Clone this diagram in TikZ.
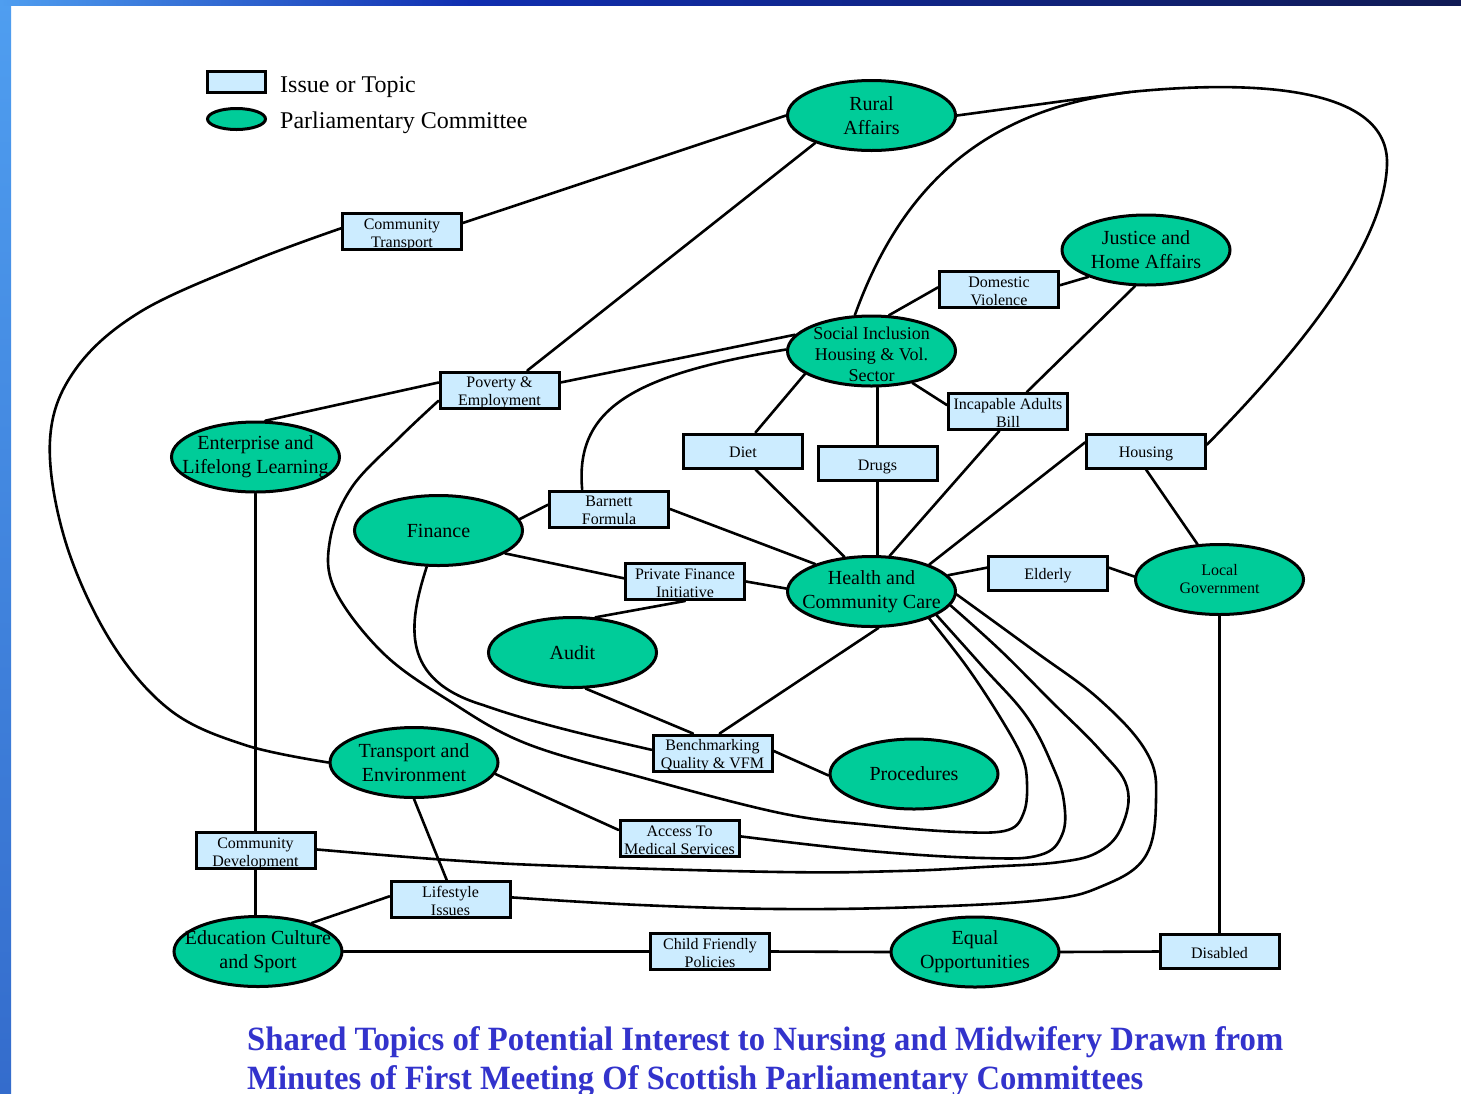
\documentclass[tikz,border=0pt]{standalone}
\usepackage{fontspec}
\setmainfont{Liberation Serif}
\usetikzlibrary{shapes.geometric}
\definecolor{comgreen}{RGB}{0,204,153}
\definecolor{topicblue}{RGB}{204,236,255}
\definecolor{titleblue}{RGB}{51,51,204}
\definecolor{barlight}{RGB}{79,158,240}
\definecolor{barmid}{RGB}{16,46,176}
\definecolor{bardark}{RGB}{16,26,84}
\definecolor{barlow}{RGB}{52,108,204}
% lowered multi-line text, box size kept
\newcommand\lowtext[2]{\raisebox{-#1}[\height][\depth]{\begin{tabular}{@{}c@{}}#2\end{tabular}}}
\newcommand\tl[1]{\lowtext{3pt}{#1}}
\begin{document}
\begin{tikzpicture}[x=1pt,y=-1pt,
  committee/.style={ellipse, draw=black, line width=3pt, fill=comgreen,
    minimum width=168pt, minimum height=70pt, inner xsep=-40pt, inner ysep=-20pt,
    align=center, font=\fontsize{20}{24}\selectfont},
  topic/.style={rectangle, draw=black, line width=3pt, fill=topicblue,
    minimum width=119pt, minimum height=34pt, inner sep=0pt,
    align=center, font=\fontsize{16}{18}\selectfont},
  link/.style={line width=2.6pt, black, line cap=round},
  plain/.style={anchor=base west, inner sep=0pt}]
\useasboundingbox (0,0) rectangle (1461,1093);
\fill[white] (0,0) rectangle (1461,1093);
% frame
\shade[top color=barlight, bottom color=barlow] (0,0) rectangle (11,1093);
\shade[left color=barlight, right color=barmid] (0,0) rectangle (470,5.5);
\shade[left color=barmid, right color=bardark] (470,0) rectangle (1461,5.5);

% legend
\node[topic, minimum width=58pt, minimum height=21pt] (legbox) at (236.5,82) {};
\node[committee, minimum width=58pt, minimum height=21pt] (legell) at (236.5,119) {};
\node[plain, font=\fontsize{24}{28}\selectfont] (legt1) at (280,92) {Issue or Topic};
\node[plain, font=\fontsize{24}{28}\selectfont] (legt2) at (280,128) {Parliamentary Committee};

% committees
\node[committee] (rural) at (871.5,115.5) {Rural\\Affairs};
\node[committee] (justice) at (1146,250) {Justice and\\Home Affairs};
\node[committee, font=\fontsize{18}{21}\selectfont] (social) at (871.5,351) {\lowtext{5pt}{Social Inclusion\\Housing \& Vol.\\Sector}};
\node[committee] (enterprise) at (255.5,457) {Enterprise and\\Lifelong Learning};
\node[committee] (finance) at (438.5,530.5) {Finance};
\node[committee] (hcc) at (871.5,591.5) {Health and\\Community Care};
\node[committee, font=\fontsize{16}{18}\selectfont] (lg) at (1219.5,579.5) {Local\\Government};
\node[committee] (audit) at (572.5,652.5) {Audit};
\node[committee] (te) at (414,762.5) {Transport and\\Environment};
\node[committee] (proc) at (914,774) {Procedures};
\node[committee] (ecs) at (258,951.5) {Education Culture\\and Sport};
\node[committee] (eo) at (975,952) {Equal\\Opportunities};

% topics
\node[topic] (ct) at (402,231.5) {\tl{Community\\Transport}};
\node[topic] (dv) at (999,289.5) {\tl{Domestic\\Violence}};
\node[topic] (pov) at (499.5,390) {\tl{Poverty \&\\Employment}};
\node[topic] (iab) at (1008,411.5) {\tl{Incapable Adults\\Bill}};
\node[topic] (diet) at (743,451) {\tl{Diet}};
\node[topic] (drugs) at (877.5,463.5) {\tl{Drugs}};
\node[topic] (housing) at (1146,451) {\tl{Housing}};
\node[topic] (bf) at (609,509) {\tl{Barnett\\Formula}};
\node[topic] (pfi) at (685,581.5) {\tl{Private Finance\\Initiative}};
\node[topic] (eld) at (1048,573) {\tl{Elderly}};
\node[topic] (bm) at (712.5,753) {\tl{Benchmarking\\Quality \& VFM}};
\node[topic] (acc) at (679.5,838.5) {\tl{Access To\\Medical Services}};
\node[topic] (cd) at (255.5,850.5) {\tl{Community\\Development}};
\node[topic] (li) at (450.5,899.5) {\tl{Lifestyle\\Issues}};
\node[topic] (cf) at (710,951.5) {\tl{Child Friendly\\Policies}};
\node[topic] (dis) at (1219.5,951.5) {\tl{Disabled}};

% straight connectors
\draw[link] (rural.180) -- (ct.8);
\draw[link] (rural.206) -- (pov.35);
\draw[link] (social.168) -- (pov.7);
\draw[link] (pov.173) -- (enterprise.75);
\draw[link] (justice.205) -- (dv.4);
\draw[link] (social.64) -- (dv.178);
\draw[link] (justice.253) -- (iab.46);
\draw[link] (social.-38) -- (iab.174);
\draw[link] (drugs.north) -- (drugs.north |- social.south);
\draw[link] (drugs.south) -- (drugs.south |- hcc.north);
\draw[link] (social.199) -- (diet.56);
\draw[link] (diet.-56) -- (hcc.128);
\draw[link] (iab.246) -- (hcc.63);
\draw[link] (housing.172) -- (hcc.25);
\draw[link] (housing.south) -- (lg.122);
\draw[link] (finance.8) -- (bf.176);
\draw[link] (bf.east) -- (hcc.154);
\draw[link] (finance.-19) -- (pfi.177);
\draw[link] (pfi.east) -- (hcc.178);
\draw[link] (pfi.south) -- (audit.57);
\draw[link] (audit.-70) -- (bm.135);
\draw[link] (bm.70) -- (hcc.-79);
\draw[link] (bm.2) -- (proc.181);
\draw[link] (hcc.12) -- (eld.175);
\draw[link] (eld.5) -- (lg.178);
\draw[link] (lg.south) -- (dis.north);
\draw[link] (dis.west) -- (eo.east);
\draw[link] (eo.west) -- (cf.east);
\draw[link] (cf.west) -- (ecs.east);
\draw[link] (ecs.28) -- (li.177);
\draw[link] (te.south) -- (li.101);
\draw[link] (te.-8) -- (acc.172);
\draw[link] (enterprise.south) -- (cd.north);
\draw[link] (cd.south) -- (cd.south |- ecs.north);

% curved connectors
\draw[link] (social.179) .. controls (630,375) and (575,410) .. (bf.144);
\draw[link] (finance.252) .. controls (408,625) and (400,680) .. (483,705)
  .. controls (540,725) and (600,738) .. (bm.177);
\coordinate (merge) at (1130,92);
\draw[link] (rural.0) -- (merge) .. controls (1250,80) and (1390,85) .. (1387,165)
  .. controls (1384,250) and (1290,360) .. (housing.6);
\draw[link] (social.115) .. controls (900,190) and (980,110) .. (merge);
\draw[link] plot[smooth, tension=0.6] coordinates {(ct.177) (250,262) (140,312) (75,370) (50,440) (65,540) (110,640) (170,710) (245,745) (te.180)};
\draw[link] plot[smooth, tension=0.6] coordinates {(pov.190) (400,437) (352,487) (330,540) (335,590) (383,653) (448,700) (525,743) (640,777) (780,813) (870,825) (960,832) (1008,830) (1024,812) (1027,783) (1022,757) (1000,717) (967,667) (hcc.-25)};
\draw[link] plot[smooth, tension=0.65] coordinates {(acc.2) (870,851) (983,858) (1040,855) (1062,835) (1064,802) (1053,767) (1027,717) (983,667) (hcc.-20)};
\draw[link] plot[smooth, tension=0.65] coordinates {(cd.1) (448,860) (563,866) (781,872) (900,871) (983,867) (1060,862) (1100,851) (1122,826) (1127,787) (1100,750) (1050,700) (1000,650) (hcc.-10)};
\draw[link] plot[smooth, tension=0.65] coordinates {(li.2) (640,905) (781,909) (920,907) (1043,900) (1100,887) (1145,857) (1156,800) (1147,753) (1100,700) (1033,650) (hcc.-2)};

% title
\node[plain, text=titleblue, font=\fontsize{34}{40}\selectfont\bfseries] (title1) at (247,1050)
  {\resizebox{1036pt}{\height}{Shared Topics of Potential Interest to Nursing and Midwifery Drawn from}};
\node[plain, text=titleblue, font=\fontsize{34}{40}\selectfont\bfseries] (title2) at (247,1089)
  {\resizebox{896pt}{\height}{Minutes of First Meeting Of Scottish Parliamentary Committees}};
\end{tikzpicture}
\end{document}
